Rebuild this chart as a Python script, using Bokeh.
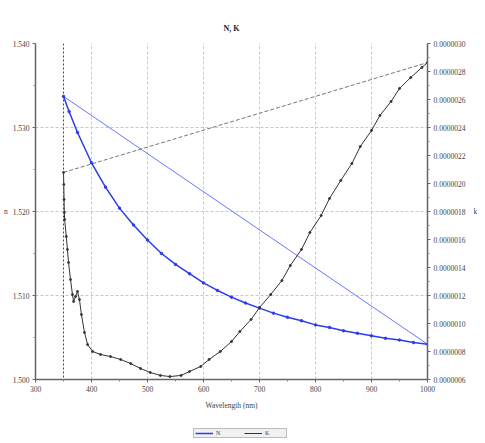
from bokeh.plotting import figure
from bokeh.layouts import column
from bokeh.models import (LinearAxis, Range1d, Span, Legend, LegendItem,
                          FixedTicker, Title, PrintfTickFormatter)
from bokeh.embed import file_html
from bokeh.resources import INLINE

# N (refractive index) series
wl_n = [350, 360, 375, 400, 425, 450, 475, 500, 525, 550, 575, 600, 625, 650,
        675, 700, 725, 750, 775, 800, 825, 850, 875, 900, 925, 950, 975, 1000]
n_vals = [1.5337, 1.5319, 1.5294, 1.5258, 1.5229, 1.5204, 1.5184, 1.5166,
          1.5150, 1.5137, 1.5126, 1.5115, 1.5106, 1.5098, 1.5091, 1.5085,
          1.5079, 1.5074, 1.5070, 1.5065, 1.5062, 1.5058, 1.5055, 1.5052,
          1.5049, 1.5047, 1.5044, 1.5042]

# K (extinction coefficient) series
wl_k = [350, 350.5, 351, 351.5, 352, 355, 357, 359, 362.5, 366, 368, 371.5,
        375, 378.5, 382, 387.5, 393, 402, 416, 434, 452, 470, 487.5, 505, 523,
        540, 560, 575, 595, 610, 630, 650, 665, 685, 700, 720, 740, 755, 775,
        790, 810, 825, 845, 865, 880, 900, 915, 935, 950, 970, 990, 1000]
k_vals = [2.079e-6, 1.993e-6, 1.886e-6, 1.793e-6, 1.743e-6, 1.621e-6,
          1.529e-6, 1.436e-6, 1.314e-6, 1.207e-6, 1.157e-6, 1.193e-6,
          1.229e-6, 1.171e-6, 1.064e-6, 0.936e-6, 0.850e-6, 0.800e-6,
          0.779e-6, 0.764e-6, 0.743e-6, 0.714e-6, 0.679e-6, 0.650e-6,
          0.629e-6, 0.621e-6, 0.629e-6, 0.657e-6, 0.693e-6, 0.743e-6,
          0.800e-6, 0.871e-6, 0.943e-6, 1.029e-6, 1.114e-6, 1.207e-6,
          1.307e-6, 1.414e-6, 1.529e-6, 1.650e-6, 1.771e-6, 1.893e-6,
          2.021e-6, 2.143e-6, 2.264e-6, 2.379e-6, 2.486e-6, 2.586e-6,
          2.679e-6, 2.757e-6, 2.829e-6, 2.864e-6]

x_ticks = [300, 400, 500, 600, 700, 800, 900, 1000]
n_ticks = [1.500, 1.510, 1.520, 1.530, 1.540]
k_ticks = [6e-7, 8e-7, 1.0e-6, 1.2e-6, 1.4e-6, 1.6e-6, 1.8e-6, 2.0e-6,
           2.2e-6, 2.4e-6, 2.6e-6, 2.8e-6, 3.0e-6]
legend_labels = ["N", "K"]

FONT = "Liberation Serif"
N_COLOR = "#2a3cf0"
K_COLOR = "#333333"

p = figure(output_backend="svg", toolbar_location=None,
           x_range=Range1d(300, 1000), y_range=Range1d(1.500, 1.540),
           frame_width=392, frame_height=336,
           min_border_left=4, min_border_right=4, min_border_top=43,
           min_border_bottom=4, background_fill_color="white",
           border_fill_color="white", outline_line_color=None)
p.extra_y_ranges = {"k": Range1d(6e-7, 3.0e-6)}

t = Title(text="N, K", align="center", text_font=FONT, text_font_size="8px",
          text_font_style="bold", text_color="#222222", offset=12,
          standoff=22)
p.add_layout(t, "above")

# axes
p.xaxis.ticker = FixedTicker(ticks=x_ticks, minor_ticks=[350, 450, 550, 650, 750, 850, 950])
p.xaxis.formatter = PrintfTickFormatter(format="%d")
p.xaxis.axis_label = "Wavelength (nm)"
p.yaxis.ticker = FixedTicker(ticks=n_ticks, minor_ticks=[1.505, 1.515, 1.525, 1.535])
p.yaxis.formatter = PrintfTickFormatter(format="%.3f")
p.yaxis.axis_label = "n"
p.yaxis.axis_label_orientation = "horizontal"

rax = LinearAxis(y_range_name="k", axis_label="k",
                 ticker=FixedTicker(ticks=k_ticks,
                                    minor_ticks=[7e-7, 9e-7, 1.1e-6, 1.3e-6, 1.5e-6, 1.7e-6,
                                                 1.9e-6, 2.1e-6, 2.3e-6, 2.5e-6, 2.7e-6, 2.9e-6]),
                 formatter=PrintfTickFormatter(format="%.7f"))
rax.axis_label_orientation = "horizontal"
p.add_layout(rax, "right")

for ax in [p.xaxis[0], p.yaxis[0], rax]:
    ax.axis_line_color = "#666666"
    ax.axis_line_width = 1.5
    ax.major_tick_line_color = "#666666"
    ax.minor_tick_line_color = "#888888"
    ax.major_tick_out = 3
    ax.major_tick_in = 0
    ax.minor_tick_out = 2
    ax.minor_tick_in = 0
    ax.major_label_text_font = FONT
    ax.major_label_text_font_size = "7.5px"
    ax.major_label_text_color = "#444444"
    ax.major_label_standoff = 3
    ax.axis_label_text_font = FONT
    ax.axis_label_text_font_size = "7.5px"
    ax.axis_label_text_font_style = "normal"
    ax.axis_label_text_color = "#444444"
    ax.axis_label_standoff = 2
p.xaxis[0].axis_label_standoff = 6
rax.axis_label_standoff = 5

p.xgrid.grid_line_color = "#c8c8c8"
p.xgrid.grid_line_dash = "3 2"
p.ygrid.grid_line_color = "#c8c8c8"
p.ygrid.grid_line_dash = "3 2"

# start marker line
p.add_layout(Span(location=wl_n[0], dimension="height", line_color="#444444",
                  line_dash="2 2", line_width=1))

# straight connections first-last
p.line([wl_n[0], wl_n[-1]], [n_vals[0], n_vals[-1]], line_color="#6677ff",
       line_width=1)
p.line([wl_k[0], wl_k[-1]], [k_vals[0], k_vals[-1]], y_range_name="k",
       line_color="#777777", line_width=1, line_dash="4 2")

# curves
p.line(wl_n, n_vals, line_color=N_COLOR, line_width=1.5)
p.scatter(wl_n, n_vals, size=2.5, color=N_COLOR)
p.line(wl_k, k_vals, y_range_name="k", line_color=K_COLOR, line_width=1)
p.scatter(wl_k, k_vals, y_range_name="k", size=2, color=K_COLOR)

# legend strip (separate small figure underneath; its ranges keep the
# series themselves out of view so only the legend swatches show)
q = figure(width=470, height=30, output_backend="svg", toolbar_location=None,
           x_range=Range1d(0, 1), y_range=Range1d(0, 1),
           min_border_left=0, min_border_right=0, min_border_top=0,
           min_border_bottom=0, outline_line_color=None,
           background_fill_color="white", border_fill_color="white")
q.axis.visible = False
q.grid.visible = False
ln = q.line(wl_n, n_vals, line_color=N_COLOR, line_width=1.5)
lk = q.line(wl_k, k_vals, line_color=K_COLOR, line_width=1)
leg = Legend(items=[LegendItem(label=legend_labels[0], renderers=[ln]),
                    LegendItem(label=legend_labels[1], renderers=[lk])],
             orientation="horizontal", location=(158, 4),
             label_text_font=FONT, label_text_font_size="6px",
             glyph_width=18, glyph_height=6, label_standoff=3, spacing=8,
             padding=1, margin=0, border_line_color="#888888",
             label_height=6, background_fill_color="#f0f0f0")
q.add_layout(leg, "center")

open("out.html", "w").write(file_html(column(p, q, spacing=0), INLINE))
